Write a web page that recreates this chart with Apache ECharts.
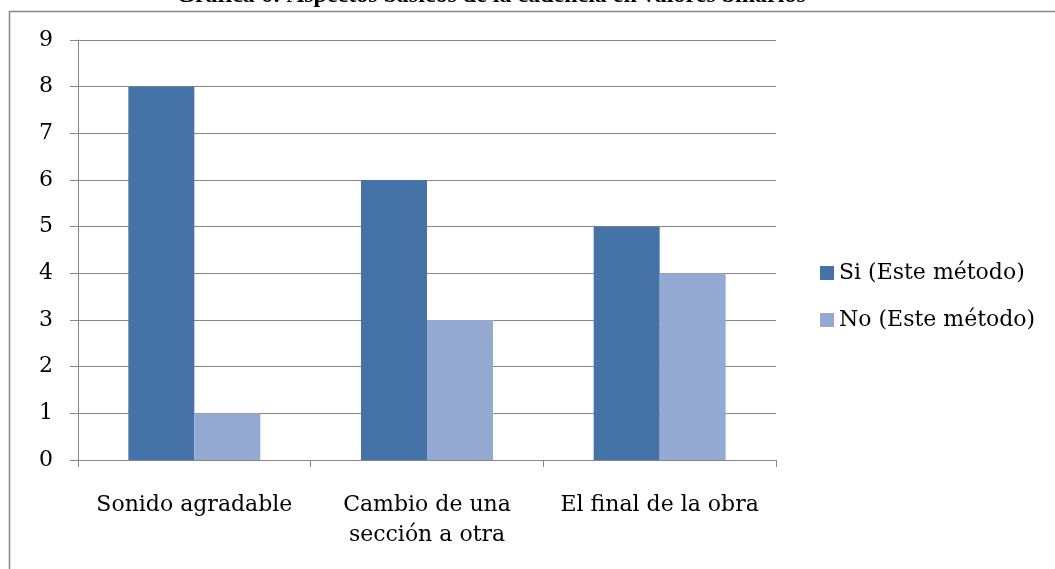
<!DOCTYPE html>
<html>
<head>
<meta charset="utf-8">
<script src="https://cdn.jsdelivr.net/npm/echarts@6/dist/echarts.min.js"></script>
<style>
  html, body { margin: 0; padding: 0; background: #fff; }
  #chart { width: 1055px; height: 569px; }
</style>
</head>
<body>
<div id="chart"></div>
<script>
// Categories and values of the grouped bar chart
const categories = ['Sonido agradable', 'Cambio de una\nsección a otra', 'El final de la obra'];
const siValues = [8, 6, 5];
const noValues = [1, 3, 4];
const seriesNames = ['Si (Este método)', 'No (Este método)'];
const titleText = 'Gráfica 6: Aspectos básicos de la cadencia en valores binarios';

const serif = '"DejaVu Serif", "Liberation Serif", serif';
const gray = '#878787';

const chart = echarts.init(document.getElementById('chart'));
chart.setOption({
  animation: false,
  backgroundColor: '#ffffff',
  title: {
    text: titleText,
    left: 486,
    textAlign: 'center',
    top: -21,
    textStyle: {
      fontFamily: '"Liberation Serif", "Times New Roman", serif',
      fontWeight: 'bold',
      fontSize: 24,
      color: '#000'
    }
  },
  // Frame around the chart area
  graphic: [{
    type: 'rect',
    silent: true,
    z: 100,
    shape: { x: 9.5, y: 11.5, width: 1200, height: 700 },
    style: { fill: 'none', stroke: gray, lineWidth: 1.5 }
  }],
  legend: {
    orient: 'vertical',
    left: 815,
    top: 257,
    itemWidth: 14,
    itemHeight: 14,
    itemGap: 25,
    icon: 'rect',
    textStyle: { fontFamily: serif, fontSize: 22, color: '#000' },
    data: seriesNames
  },
  grid: { left: 78, right: 279, top: 40, bottom: 109, containLabel: false },
  xAxis: {
    type: 'category',
    data: categories,
    axisLine: { lineStyle: { color: gray, width: 1 } },
    axisTick: { show: true, length: 7, lineStyle: { color: gray } },
    axisLabel: {
      fontFamily: serif,
      fontSize: 22,
      color: '#000',
      margin: 30,
      lineHeight: 30,
      interval: 0
    }
  },
  yAxis: {
    type: 'value',
    min: 0,
    max: 9,
    interval: 1,
    axisLine: { show: true, lineStyle: { color: gray, width: 1 } },
    axisTick: { show: true, length: 8, lineStyle: { color: gray } },
    splitLine: { lineStyle: { color: gray, width: 1 } },
    axisLabel: {
      fontFamily: serif,
      fontSize: 22,
      color: '#000',
      margin: 25
    }
  },
  series: [
    {
      name: seriesNames[0],
      type: 'bar',
      data: siValues,
      barWidth: 66,
      barGap: '0%',
      itemStyle: { color: '#4572A7' }
    },
    {
      name: seriesNames[1],
      type: 'bar',
      data: noValues,
      barWidth: 66,
      itemStyle: { color: '#95AAD2' }
    }
  ]
});
</script>
</body>
</html>
